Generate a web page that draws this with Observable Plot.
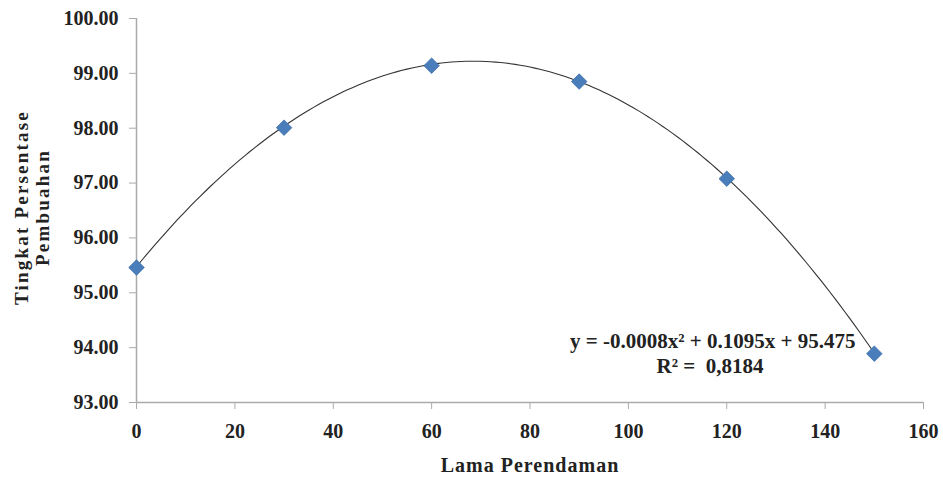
<!DOCTYPE html>
<html>
<head>
<meta charset="utf-8">
<script src="https://cdn.jsdelivr.net/npm/d3@7"></script>
<script src="https://cdn.jsdelivr.net/npm/@observablehq/plot@0.6"></script>
<style>
  html, body { margin: 0; padding: 0; background: #fff; }
  #chart svg { display: block; }
  #chart svg, #chart svg text { font-family: "Liberation Serif", "DejaVu Serif", serif !important; font-weight: bold; }
</style>
</head>
<body>
<div id="chart"></div>
<script>
// Data
const lamaPerendaman = [0, 30, 60, 90, 120, 150];
const persentase = [95.46, 98.01, 99.14, 98.85, 97.08, 93.89];
// Trendline coefficients shown on the chart (a, b, c for y = a x^2 + b x + c)
const trendCoef = [-0.0008, 0.1095, 95.475];
const xTicks = [0, 20, 40, 60, 80, 100, 120, 140, 160];
const yTicks = [93, 94, 95, 96, 97, 98, 99, 100];
const xLabel = "Lama Perendaman";
const yLabel = "Tingkat Persentase\nPembuahan";
const eqText = "y = -0.0008x² + 0.1095x + 95.475";
const r2Text = "R² =  0,8184";

const points = lamaPerendaman.map((x, i) => ({x, y: persentase[i]}));
const trend = d3.range(0, 150.5, 1).map(x => ({x, y: trendCoef[0]*x*x + trendCoef[1]*x + trendCoef[2]}));

const font = "Liberation Serif";

const chart = Plot.plot({
  width: 943,
  height: 482,
  marginLeft: 136,
  marginRight: 20,
  marginTop: 18,
  marginBottom: 80,
  style: {fontFamily: font, fontWeight: "bold", fontSize: "20px", color: "#222", background: "#fff"},
  x: {domain: [0, 160]},
  y: {domain: [93, 100]},
  marks: [
    Plot.axisX({ticks: xTicks, tickSize: 7, tickPadding: 14, stroke: "#aaa", label: null, fontSize: 20, fontFamily: font, fill: "#222", tickFormat: d => String(d)}),
    Plot.axisY({ticks: yTicks, tickSize: 7, tickPadding: 11, stroke: "#aaa", label: null, fontSize: 20, fontFamily: font, fill: "#222", tickFormat: d => d.toFixed(2)}),
    Plot.ruleX([0], {stroke: "#aaa", strokeWidth: 1.5}),
    Plot.ruleY([93], {stroke: "#aaa", strokeWidth: 1.5}),
    Plot.line(trend, {x: "x", y: "y", stroke: "#333", strokeWidth: 1.1}),
    Plot.dot(points, {x: "x", y: "y", symbol: "diamond2", r: 7, fill: "#4a7ebb", stroke: "#3d6fad", strokeWidth: 0.8}),
    Plot.text([eqText], {frameAnchor: "bottom-right", dx: -68, dy: -55, textAnchor: "end", fontSize: 21, fontFamily: font, fill: "#222"}),
    Plot.text([r2Text], {frameAnchor: "bottom-right", dx: -160, dy: -30, textAnchor: "end", fontSize: 21, fontFamily: font, fill: "#222"}),
    Plot.text([xLabel], {frameAnchor: "bottom", dy: 69, fontSize: 20, fontFamily: font, fill: "#222"}),
    Plot.text([yLabel], {frameAnchor: "left", textAnchor: "middle", dx: -105, dy: -3, rotate: -90, fontSize: 19, lineHeight: 1.15, fontFamily: font, fill: "#222"})
  ]
});
d3.select(chart).selectAll("text").each(function() {
  const t = this.textContent;
  if (t.startsWith("Tingkat") || t.startsWith("Pembuahan")) this.style.letterSpacing = "2.2px";
  if (t.startsWith("Lama")) this.style.letterSpacing = "1px";
});
document.getElementById("chart").appendChild(chart);
</script>
</body>
</html>
